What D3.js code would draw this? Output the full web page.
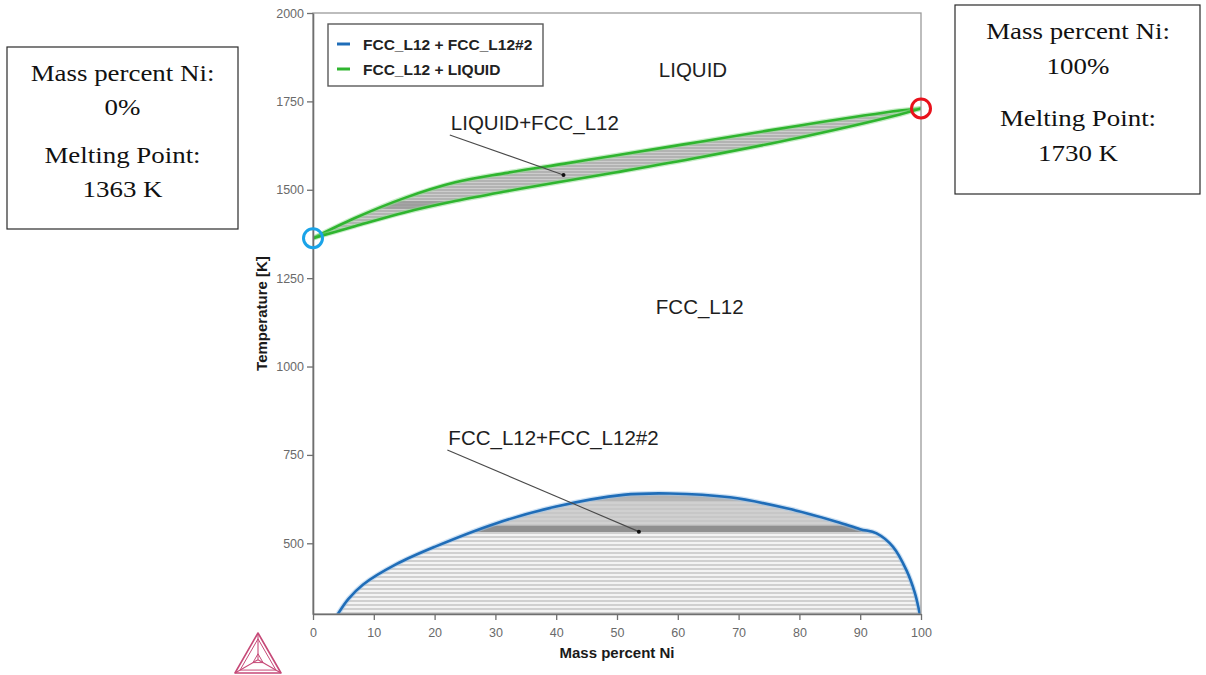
<!DOCTYPE html>
<html>
<head>
<meta charset="utf-8">
<script src="https://cdn.jsdelivr.net/npm/d3@7"></script>
<style>
  html, body { margin: 0; padding: 0; background: #fff; }
  svg { display: block; }
</style>
</head>
<body>
<svg id="chart" width="1206" height="675"></svg>
<script>
// ---- Cu–Ni phase diagram data (mass percent Ni vs temperature in K) ----
const xTicks = [0, 10, 20, 30, 40, 50, 60, 70, 80, 90, 100];
const yTicks = [500, 750, 1000, 1250, 1500, 1750, 2000];

// pure-element melting points
const meltNi = [0, 100];
const meltT = [1363, 1730];

// FCC_L12 + LIQUID two-phase boundaries
const liquidusNi = [0, 6.9, 15.1, 23.4, 31.6, 41.4, 49.7, 63.7, 80.1, 96.5, 100];
const liquidusT = [1363, 1420, 1477, 1521, 1547, 1574, 1597, 1636, 1682, 1724, 1730];
const solidusNi = [0, 6.9, 15.1, 23.4, 31.6, 39.8, 49.7, 63.7, 80.1, 96.5, 100];
const solidusT = [1363, 1397, 1436, 1468, 1495, 1520, 1549, 1592, 1648, 1713, 1730];

// FCC_L12 + FCC_L12#2 miscibility gap
const gapNi = [4.1, 5.8, 8.2, 13.7, 20, 30.2, 40, 51, 58.7, 68.6, 77.9, 86.1, 90, 92.7, 95.4, 97.6, 99, 99.8];
const gapT = [300, 342, 383, 441, 490, 557, 604, 637, 641, 630, 599, 561, 540, 528, 490, 424, 359, 300];

// temperature bands where tie-lines are dense
const lensDenseBands = [[1446, 1468]];
const gapDenseBands = [[550, 660], [620, 660], [532, 550]];

// legend entries and region labels
const legendNames = ["FCC_L12 + FCC_L12#2", "FCC_L12 + LIQUID"];
const regionNames = ["LIQUID", "FCC_L12"];
const regionNi = [62.5, 63.6];
const regionT = [1818, 1149];
const pointerNames = ["LIQUID+FCC_L12", "FCC_L12+FCC_L12#2"];
const pointerFromNi = [22.5, 22.1];
const pointerFromT = [1655, 764];
const pointerToNi = [41.2, 53.6];
const pointerToT = [1542, 533];

// ---- drawing ----
const svg = d3.select("#chart");
svg.append("rect").attr("width", 1206).attr("height", 675).attr("fill", "#fff");

const x = d3.scaleLinear().domain([0, 100]).range([313, 921]);
const y = d3.scaleLinear().domain([300, 2000]).range([614, 13]);

const defs = svg.append("defs");
const gapPat = defs.append("pattern").attr("id", "tieGap")
  .attr("patternUnits", "userSpaceOnUse").attr("width", 8).attr("height", 4);
gapPat.append("rect").attr("width", 8).attr("height", 4).attr("fill", "#f3f3f3");
gapPat.append("rect").attr("width", 8).attr("height", 2).attr("fill", "#d0d0d0");

const lensPat = defs.append("pattern").attr("id", "tieLens")
  .attr("patternUnits", "userSpaceOnUse").attr("width", 8).attr("height", 3);
lensPat.append("rect").attr("width", 8).attr("height", 3).attr("fill", "#b3b3b3");
lensPat.append("rect").attr("y", 2).attr("width", 8).attr("height", 1).attr("fill", "#cdcdcd");

const pts = (xs, ts) => xs.map((v, i) => [x(v), y(ts[i])]);
const liqPts = pts(liquidusNi, liquidusT);
const solPts = pts(solidusNi, solidusT);
const gapPts = pts(gapNi, gapT);

const lineGen = d3.line().curve(d3.curveCatmullRom.alpha(0.5));

// clip regions for the tie-line shading
const lensPath = lineGen(liqPts) + "L" + lineGen(solPts.slice().reverse()).slice(1) + "Z";
const gapPath = lineGen(gapPts) + "L" + x(gapNi[0]) + "," + y(300) + "Z";
defs.append("clipPath").attr("id", "clipLens").append("path").attr("d", lensPath);
defs.append("clipPath").attr("id", "clipGap").append("path").attr("d", gapPath);
defs.append("clipPath").attr("id", "clipPlot").append("rect")
  .attr("x", x(0)).attr("y", y(2000)).attr("width", x(100) - x(0)).attr("height", y(300) - y(2000));

const plot = svg.append("g").attr("clip-path", "url(#clipPlot)");

// lens shading
const lensG = plot.append("g").attr("clip-path", "url(#clipLens)");
lensG.append("rect").attr("x", x(0)).attr("y", y(2000))
  .attr("width", x(100) - x(0)).attr("height", y(300) - y(2000)).attr("fill", "url(#tieLens)");
lensG.selectAll("rect.band").data(lensDenseBands).join("rect").attr("class", "band")
  .attr("x", x(0)).attr("width", x(100) - x(0))
  .attr("y", d => y(d[1])).attr("height", d => y(d[0]) - y(d[1]))
  .attr("fill", "#979797").attr("opacity", 0.75);

// miscibility gap shading
const gapShades = ["#c4c4c4", "#ababab", "#8f8f8f"];
const gapOp = [0.75, 0.7, 1];
const gapG = plot.append("g").attr("clip-path", "url(#clipGap)");
gapG.append("rect").attr("x", x(0)).attr("y", y(2000))
  .attr("width", x(100) - x(0)).attr("height", y(300) - y(2000)).attr("fill", "url(#tieGap)");
gapG.selectAll("rect.band").data(gapDenseBands).join("rect").attr("class", "band")
  .attr("x", x(0)).attr("width", x(100) - x(0))
  .attr("y", d => y(d[1])).attr("height", d => y(d[0]) - y(d[1]))
  .attr("fill", (d, i) => gapShades[i]).attr("opacity", (d, i) => gapOp[i]);

// plot frame
svg.append("rect").attr("x", x(0)).attr("y", y(2000))
  .attr("width", x(100) - x(0)).attr("height", y(300) - y(2000))
  .attr("fill", "none").attr("stroke", "#9a9a9a").attr("stroke-width", 1.3);

// phase boundaries with a soft halo
const green = "#2fb52f", blue = "#1f6db8";
[[liqPts, green, "#8fdc8f"], [solPts, green, "#8fdc8f"], [gapPts, blue, "#9cc3ea"]].forEach(([p, c, h]) => {
  plot.append("path").attr("d", lineGen(p)).attr("fill", "none")
    .attr("stroke", h).attr("stroke-width", 5).attr("opacity", 0.5).attr("stroke-linecap", "round");
  plot.append("path").attr("d", lineGen(p)).attr("fill", "none")
    .attr("stroke", c).attr("stroke-width", 2.6).attr("stroke-linecap", "round");
});

// axes
const yAxis = svg.append("g").attr("transform", `translate(${x(0)},0)`)
  .call(d3.axisLeft(y).tickValues(yTicks).tickSize(6).tickSizeOuter(0).tickPadding(3).tickFormat(d3.format("d")));
const xAxis = svg.append("g").attr("transform", `translate(0,${y(300)})`)
  .call(d3.axisBottom(x).tickValues(xTicks).tickSize(6).tickSizeOuter(0).tickPadding(8).tickFormat(d3.format("d")));
[yAxis, xAxis].forEach(a => {
  a.select(".domain").attr("stroke", "#6f6f6f").attr("stroke-width", 1.6);
  a.selectAll(".tick line").attr("stroke", "#6f6f6f").attr("stroke-width", 1.3);
  a.selectAll(".tick text").attr("fill", "#6a6a6a")
    .style("font-family", "'Liberation Sans', Arial, sans-serif").style("font-size", "12.5px");
});

// axis titles
svg.append("text").attr("x", 0).attr("y", 0)
  .attr("transform", `translate(267,${(y(300) + y(2000)) / 2}) rotate(-90)`)
  .attr("text-anchor", "middle")
  .style("font-family", "'Liberation Sans', Arial, sans-serif").style("font-size", "15px")
  .style("font-weight", "bold").attr("fill", "#1a1a1a").text("Temperature [K]");
svg.append("text").attr("x", (x(0) + x(100)) / 2).attr("y", 658)
  .attr("text-anchor", "middle")
  .style("font-family", "'Liberation Sans', Arial, sans-serif").style("font-size", "15px")
  .style("font-weight", "bold").attr("fill", "#1a1a1a").text("Mass percent Ni");

// legend
const leg = svg.append("g");
leg.append("rect").attr("x", 328).attr("y", 24).attr("width", 215).attr("height", 62)
  .attr("fill", "#fff").attr("stroke", "#5a5a5a").attr("stroke-width", 1.4);
legendNames.forEach((name, i) => {
  const ly = 44 + i * 25;
  leg.append("line").attr("x1", 337).attr("x2", 350).attr("y1", ly).attr("y2", ly)
    .attr("stroke", i === 0 ? blue : green).attr("stroke-width", 3);
  leg.append("text").attr("x", 363).attr("y", ly + 5.5)
    .style("font-family", "'Liberation Sans', Arial, sans-serif").style("font-size", "15.5px")
    .style("font-weight", "bold").attr("fill", "#222").text(name);
});

// region labels
const labelFont = sel => sel.style("font-family", "'Liberation Sans', Arial, sans-serif")
  .style("font-size", "20.5px").attr("fill", "#1e1e1e");
regionNames.forEach((name, i) => {
  svg.append("text").attr("x", x(regionNi[i])).attr("y", y(regionT[i]))
    .attr("text-anchor", "middle").call(labelFont).text(name);
});

// pointer labels with leader lines
pointerNames.forEach((name, i) => {
  const x0 = x(pointerFromNi[i]), y0 = y(pointerFromT[i]);
  svg.append("text").attr("x", x0 + 1).attr("y", y0 - 5).call(labelFont).text(name);
  svg.append("line").attr("x1", x0).attr("y1", y0)
    .attr("x2", x(pointerToNi[i])).attr("y2", y(pointerToT[i]))
    .attr("stroke", "#4a4a4a").attr("stroke-width", 1.1);
  svg.append("circle").attr("cx", x(pointerToNi[i])).attr("cy", y(pointerToT[i]))
    .attr("r", 2).attr("fill", "#111");
});

// melting point markers
const markColors = ["#1aa3e8", "#e8121c"];
meltNi.forEach((n, i) => {
  svg.append("circle").attr("cx", x(n)).attr("cy", y(meltT[i])).attr("r", 9.5)
    .attr("fill", "none").attr("stroke", markColors[i]).attr("stroke-width", 3);
});

// note boxes
const notes = [
  { box: [7, 47, 231, 182], cx: 122.5, base: [81, 115, 163, 197], i: 0 },
  { box: [955, 5, 245, 189], cx: 1078, base: [39, 74, 126, 161], i: 1 }
];
notes.forEach(nb => {
  svg.append("rect").attr("x", nb.box[0]).attr("y", nb.box[1])
    .attr("width", nb.box[2]).attr("height", nb.box[3])
    .attr("fill", "#fff").attr("stroke", "#2a2a2a").attr("stroke-width", 1.2);
  const lines = ["Mass percent Ni:", `${meltNi[nb.i]}%`, "Melting Point:", `${meltT[nb.i]} K`];
  lines.forEach((t, k) => {
    svg.append("text").attr("transform", `translate(${nb.cx},${nb.base[k]}) scale(1.17,1)`)
      .attr("text-anchor", "middle")
      .style("font-family", "'Liberation Serif', 'Times New Roman', serif").style("font-size", "23px")
      .attr("fill", "#111").text(t);
  });
});

// software logo: triangle with inner tetrahedron edges
const logo = svg.append("g").attr("fill", "none").attr("stroke", "#c64a78").attr("stroke-linejoin", "round");
const tri = [[258, 633], [235, 673], [281, 673]];
const cen = [(tri[0][0] + tri[1][0] + tri[2][0]) / 3, (tri[0][1] + tri[1][1] + tri[2][1]) / 3];
const scaleTri = s => tri.map(p => [cen[0] + (p[0] - cen[0]) * s, cen[1] + (p[1] - cen[1]) * s]);
logo.append("path").attr("d", d3.line()(tri) + "Z").attr("stroke-width", 1.6);
logo.append("path").attr("d", d3.line()(scaleTri(0.78)) + "Z").attr("stroke-width", 1);
logo.append("path").attr("d", d3.line()(scaleTri(0.22)) + "Z").attr("stroke-width", 1);
tri.forEach(p => logo.append("line").attr("x1", cen[0]).attr("y1", cen[1])
  .attr("x2", p[0]).attr("y2", p[1]).attr("stroke-width", 1.1));
</script>
</body>
</html>
